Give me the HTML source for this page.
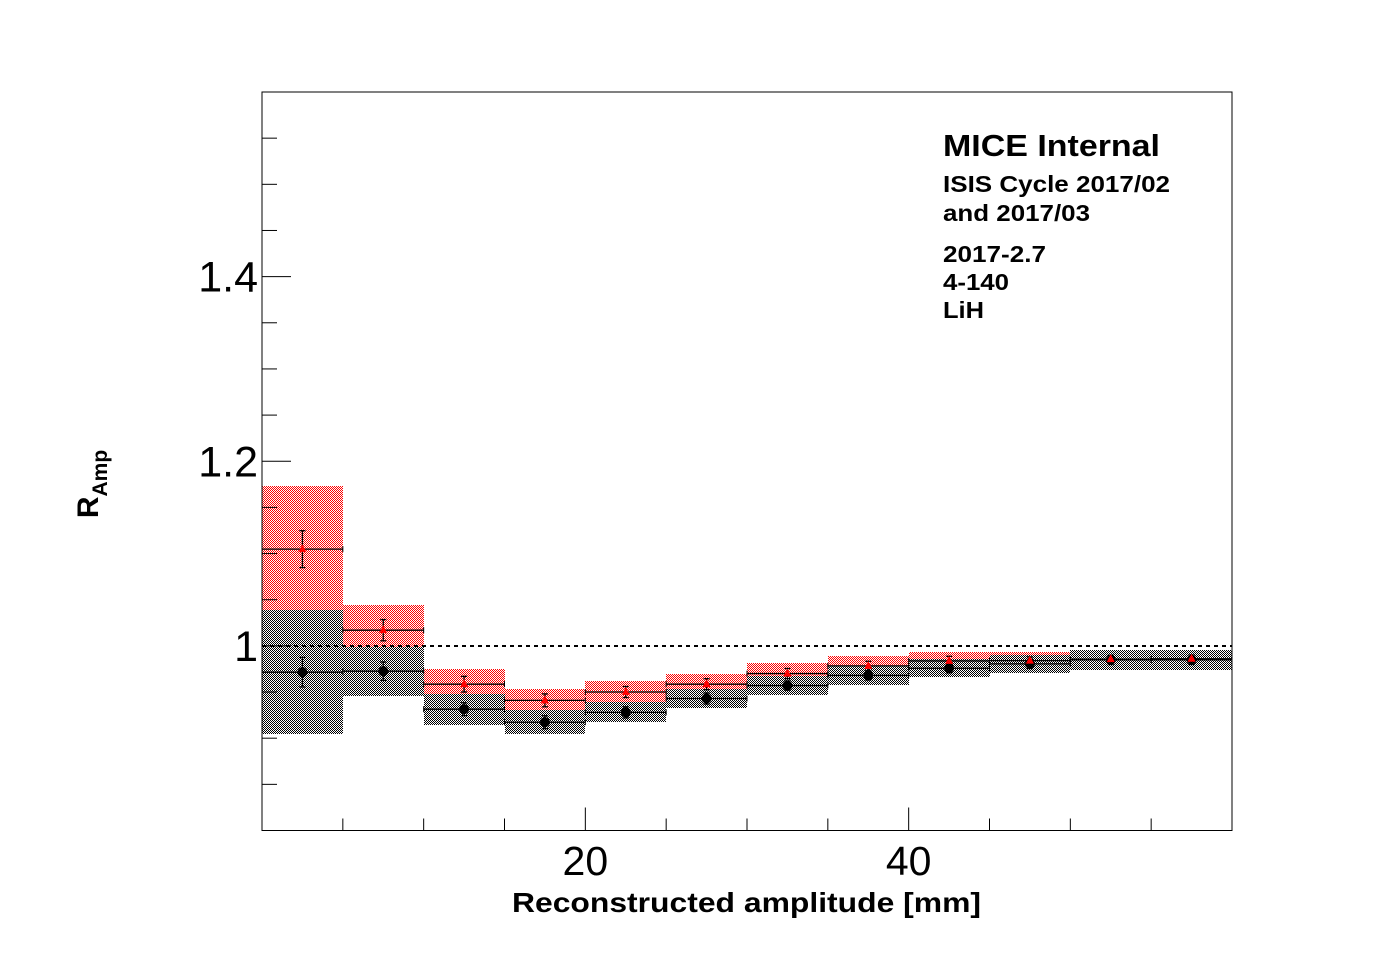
<!DOCTYPE html>
<html><head><meta charset="utf-8"><style>
html,body{margin:0;padding:0;background:#fff;}
svg{display:block;font-family:"Liberation Sans",Arial,sans-serif;}
</style></head><body>
<svg id="chart" width="1396" height="972" viewBox="0 0 1396 972" xmlns="http://www.w3.org/2000/svg">
<defs>
<pattern id="redHatch" patternUnits="userSpaceOnUse" x="0" y="0" width="2" height="2"><rect width="2" height="2" fill="#fff" shape-rendering="crispEdges"/><rect x="0" y="0" width="1" height="1" fill="#f00" shape-rendering="crispEdges"/><rect x="1" y="1" width="1" height="1" fill="#f00" shape-rendering="crispEdges"/></pattern>
<pattern id="blkHatch" patternUnits="userSpaceOnUse" x="0" y="0" width="2" height="2"><rect width="2" height="2" fill="#fff" shape-rendering="crispEdges"/><rect x="0" y="0" width="1" height="1" fill="#000" shape-rendering="crispEdges"/><rect x="1" y="1" width="1" height="1" fill="#000" shape-rendering="crispEdges"/></pattern>
</defs>
<rect width="1396" height="972" fill="#fff"/>
<g id="bands" shape-rendering="crispEdges"></g>
<line x1="262" y1="646" x2="1232" y2="646" stroke="#000" stroke-width="2" stroke-dasharray="4,4"/>
<g id="marks"></g>
<rect x="262" y="92" width="970" height="738.5" fill="none" stroke="#000" stroke-width="1"/>
<g id="axes"></g>
<text x="512" y="912" font-size="28" font-weight="bold" textLength="469" lengthAdjust="spacingAndGlyphs">Reconstructed amplitude [mm]</text>
<text transform="translate(98,484) rotate(-90)" font-size="30" font-weight="bold" text-anchor="middle">R<tspan font-size="21" dy="9">Amp</tspan></text>
<g font-weight="bold">
<text x="943" y="156" font-size="31" textLength="217" lengthAdjust="spacingAndGlyphs">MICE Internal</text>
<text x="943" y="192" font-size="23" textLength="227" lengthAdjust="spacingAndGlyphs">ISIS Cycle 2017/02</text>
<text x="943" y="221" font-size="23" textLength="147" lengthAdjust="spacingAndGlyphs">and 2017/03</text>
<text x="943" y="262" font-size="23" textLength="103" lengthAdjust="spacingAndGlyphs">2017-2.7</text>
<text x="943" y="290" font-size="23" textLength="66" lengthAdjust="spacingAndGlyphs">4-140</text>
<text x="943" y="318" font-size="23" textLength="41" lengthAdjust="spacingAndGlyphs">LiH</text>
</g>
</svg>
<script>
const binLo = [0,5,10,15,20,25,30,35,40,45,50,55];
const redVal = [1.1048,1.017,0.9585,0.941,0.950,0.9585,0.970,0.9783,0.9837,0.984,0.9856,0.986];
const redSys = [0.068,0.027,0.0165,0.0124,0.012,0.011,0.0115,0.011,0.010,0.009,0.008,0.008];
const redErr = [0.020,0.0115,0.0085,0.007,0.006,0.006,0.0055,0.005,0.005,0.004,0.004,0.004];
const blkVal = [0.9715,0.9726,0.9314,0.9173,0.928,0.943,0.957,0.968,0.9758,0.9805,0.9848,0.9848];
const blkSys = [0.0675,0.0266,0.017,0.0127,0.011,0.010,0.010,0.010,0.0095,0.0095,0.011,0.011];
const blkErr = [0.016,0.010,0.007,0.007,0.006,0.006,0.005,0.005,0.005,0.005,0.005,0.005];
const xTicks = [20,40];
const yTicks = [1,1.2,1.4];
const binW = 5;
const NS="http://www.w3.org/2000/svg";
const X0=262,X1=1232,Y0=830.5,Y1=92, xmin=0,xmax=60,ymin=0.8,ymax=1.6;
const sx=v=>X0+(v-xmin)/(xmax-xmin)*(X1-X0);
const sy=v=>Y0-(v-ymin)/(ymax-ymin)*(Y0-Y1);
function mk(tag,attrs,parent){const e=document.createElementNS(NS,tag);for(const k in attrs)e.setAttribute(k,attrs[k]);parent.appendChild(e);return e;}
const bands=document.getElementById('bands'), marks=document.getElementById('marks'), axes=document.getElementById('axes');
const R=Math.round;
binLo.forEach((lo,i)=>{
  const y1=R(sy(redVal[i]+redSys[i])), y2=R(sy(redVal[i]-redSys[i]));
  const r=mk('rect',{x:R(sx(lo)),y:y1,width:R(sx(lo+binW))-R(sx(lo)),height:y2-y1,fill:'url(#redHatch)'},bands);
  
  
});
binLo.forEach((lo,i)=>{
  const y1=R(sy(blkVal[i]+blkSys[i])), y2=R(sy(blkVal[i]-blkSys[i]));
  const b=mk('rect',{x:R(sx(lo)),y:y1,width:R(sx(lo+binW))-R(sx(lo)),height:y2-y1,fill:'url(#blkHatch)'},bands);
  
  
});
function point(lo,v,e,color,shape,name){
  const g=mk('g',{},marks);
  
  
  const xc=sx(lo+binW/2), yc=sy(v);
  mk('line',{x1:sx(lo),x2:sx(lo+binW),y1:yc,y2:yc,stroke:'#000','stroke-width':1.3},g);
  mk('line',{x1:sx(lo),x2:sx(lo),y1:yc-3,y2:yc+3,stroke:'#000','stroke-width':1},g);
  mk('line',{x1:sx(lo+binW),x2:sx(lo+binW),y1:yc-3,y2:yc+3,stroke:'#000','stroke-width':1},g);
  mk('line',{x1:xc,x2:xc,y1:sy(v+e),y2:sy(v-e),stroke:'#000','stroke-width':1.3},g);
  mk('line',{x1:xc-3,x2:xc+3,y1:sy(v+e),y2:sy(v+e),stroke:'#000','stroke-width':1.3},g);
  mk('line',{x1:xc-3,x2:xc+3,y1:sy(v-e),y2:sy(v-e),stroke:'#000','stroke-width':1.3},g);
  if(shape==='tri') mk('polygon',{points:`${xc-4},${yc+3} ${xc+4},${yc+3} ${xc},${yc-5}`,fill:color},g);
  else mk('circle',{cx:xc,cy:yc,r:5,fill:color},g);
}
binLo.forEach((lo,i)=>point(lo,blkVal[i],blkErr[i],'#000','circ','black-point'));
binLo.forEach((lo,i)=>point(lo,redVal[i],redErr[i],'#f00','tri','red-point'));
for(let v=0;v<=60;v+=5){
  const t=mk('line',{x1:sx(v),x2:sx(v),y1:Y0,y2:Y0-(v%20===0?23:12),stroke:'#000','stroke-width':1},axes);
  
  
}
for(let k=0;k<=16;k++){
  const v=ymin+k*0.05;
  const major=(k%4===0);
  const t=mk('line',{x1:X0,x2:X0+(major?29:15),y1:sy(v),y2:sy(v),stroke:'#000','stroke-width':1},axes);
  
  
}
xTicks.forEach(v=>{
  const t=mk('text',{x:sx(v),y:875,'font-size':41,'text-anchor':'middle'},axes);
  t.textContent=String(v);
  
  
});
yTicks.forEach(v=>{
  const t=mk('text',{x:258,y:sy(v)+15,'font-size':43,'text-anchor':'end'},axes);
  t.textContent=String(v);
  
  
});
</script>
</body></html>
